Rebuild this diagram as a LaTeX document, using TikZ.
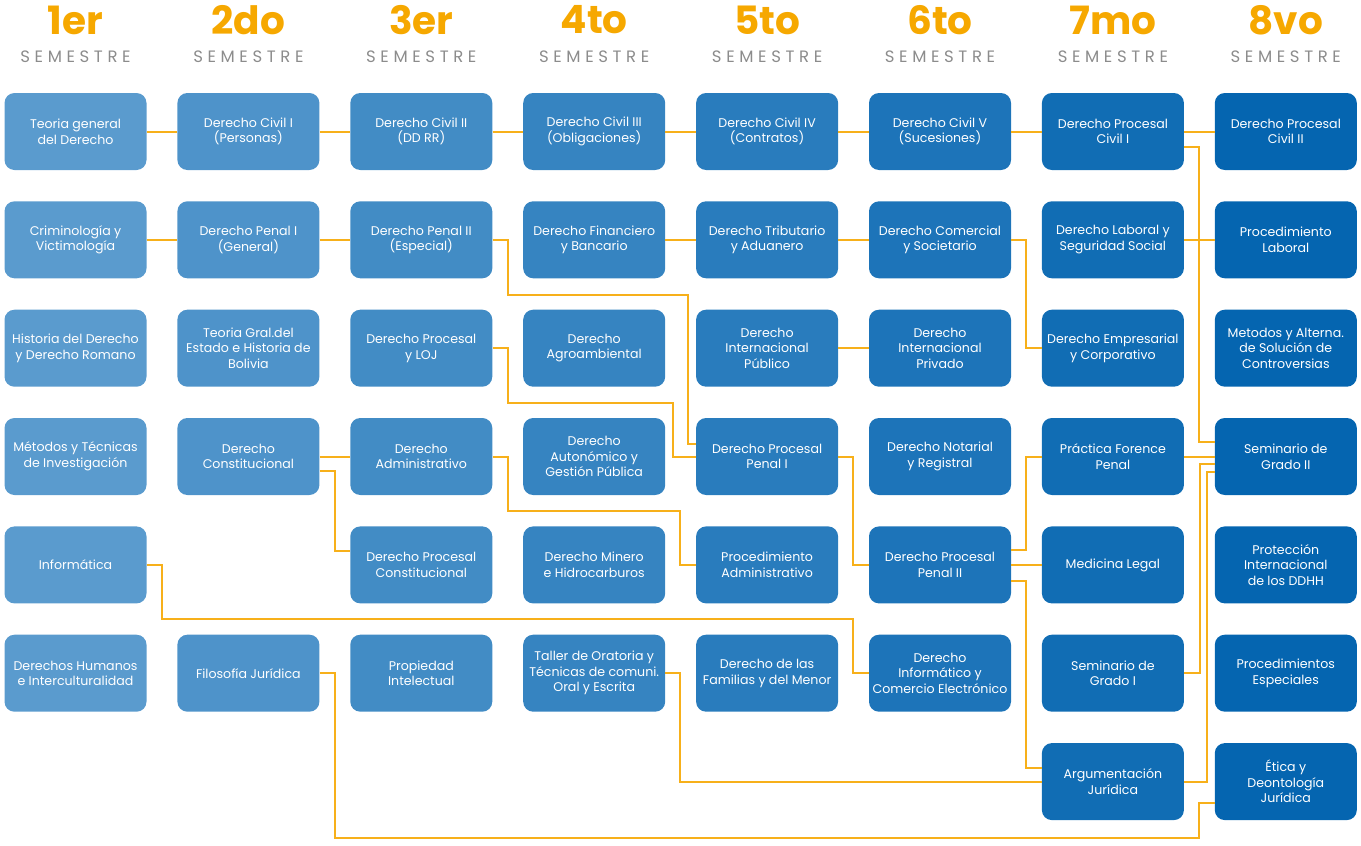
\documentclass[tikz,border=0pt]{standalone}
\usepackage{fontspec}
\setmainfont{Poppins}
\usetikzlibrary{calc}
% column colours, light to dark
\definecolor{c1}{HTML}{5A9BCE}
\definecolor{c2}{HTML}{4E93CA}
\definecolor{c3}{HTML}{428CC5}
\definecolor{c4}{HTML}{3684C1}
\definecolor{c5}{HTML}{297CBD}
\definecolor{c6}{HTML}{1D74B9}
\definecolor{c7}{HTML}{116DB4}
\definecolor{c8}{HTML}{0565B0}
\definecolor{linkc}{HTML}{F7B01A}
\definecolor{numc}{HTML}{F6A800}
\definecolor{semc}{HTML}{8C8C8C}
\begin{document}
\begin{tikzpicture}[x=1pt,y=-1pt,
  course/.style={rounded corners=10pt,minimum width=142pt,minimum height=77pt,
    inner sep=2pt,text=white,align=center,font=\fontsize{12.6}{15.6}\selectfont},
  link/.style={draw=linkc,line width=2pt},
  semlabel/.style={text=semc,font=\fontsize{16.5}{18}\selectfont\addfontfeatures{LetterSpace=28}},
  numlabel/.style={text=numc,font=\fontsize{39}{40}\selectfont\bfseries}]
\useasboundingbox (0,0) rectangle (1361,846);

% semester headings
\foreach \x/\n [count=\i] in {75.5/1er,248.4/2do,421.3/3er,594.2/4to,767.1/5to,940/6to,1112.9/7mo,1285.8/8vo}{
  \node[numlabel] (num\i) at (\x,20) {\n};
  \node[semlabel] (sem\i) at (\x,56.5) {SEMESTRE};
}

% 1er semestre
\node[course,fill=c1] (teo)  at (75.5,131.5) {Teoria general\\del Derecho};
\node[course,fill=c1] (crim) at (75.5,239.8) {Criminología y\\Victimología};
\node[course,fill=c1] (hist) at (75.5,348.2) {Historia del Derecho\\y Derecho Romano};
\node[course,fill=c1] (met)  at (75.5,456.5) {Métodos y Técnicas\\de Investigación};
\node[course,fill=c1] (inf)  at (75.5,564.9) {Informática};
\node[course,fill=c1] (ddhh) at (75.5,673.2) {Derechos Humanos\\e Interculturalidad};
% 2do semestre
\node[course,fill=c2] (civ1) at (248.4,131.5) {Derecho Civil I\\(Personas)};
\node[course,fill=c2] (pen1) at (248.4,239.8) {Derecho Penal I\\(General)};
\node[course,fill=c2] (tge)  at (248.4,348.2) {Teoria Gral.del\\Estado e Historia de\\Bolivia};
\node[course,fill=c2] (cons) at (248.4,456.5) {Derecho\\Constitucional};
\node[course,fill=c2] (filo) at (248.4,673.2) {Filosofía Jurídica};
% 3er semestre
\node[course,fill=c3] (civ2) at (421.3,131.5) {Derecho Civil II\\(DD RR)};
\node[course,fill=c3] (pen2) at (421.3,239.8) {Derecho Penal II\\(Especial)};
\node[course,fill=c3] (loj)  at (421.3,348.2) {Derecho Procesal\\y LOJ};
\node[course,fill=c3] (adm)  at (421.3,456.5) {Derecho\\Administrativo};
\node[course,fill=c3] (pcon) at (421.3,564.9) {Derecho Procesal\\Constitucional};
\node[course,fill=c3] (prop) at (421.3,673.2) {Propiedad\\Intelectual};
% 4to semestre
\node[course,fill=c4] (civ3) at (594.2,131.5) {Derecho Civil III\\(Obligaciones)};
\node[course,fill=c4] (fin)  at (594.2,239.8) {Derecho Financiero\\y Bancario};
\node[course,fill=c4] (agro) at (594.2,348.2) {Derecho\\Agroambiental};
\node[course,fill=c4] (auto) at (594.2,456.5) {Derecho\\Autonómico y\\Gestión Pública};
\node[course,fill=c4] (min)  at (594.2,564.9) {Derecho Minero\\e Hidrocarburos};
\node[course,fill=c4] (tall) at (594.2,673.2) {Taller de Oratoria y\\Técnicas de comuni.\\Oral y Escrita};
% 5to semestre
\node[course,fill=c5] (civ4) at (767.1,131.5) {Derecho Civil IV\\(Contratos)};
\node[course,fill=c5] (trib) at (767.1,239.8) {Derecho Tributario\\y Aduanero};
\node[course,fill=c5] (dip)  at (767.1,348.2) {Derecho\\Internacional\\Público};
\node[course,fill=c5] (pp1)  at (767.1,456.5) {Derecho Procesal\\Penal I};
\node[course,fill=c5] (padm) at (767.1,564.9) {Procedimiento\\Administrativo};
\node[course,fill=c5] (fam)  at (767.1,673.2) {Derecho de las\\Familias y del Menor};
% 6to semestre
\node[course,fill=c6] (civ5) at (940,131.5) {Derecho Civil V\\(Sucesiones)};
\node[course,fill=c6] (com)  at (940,239.8) {Derecho Comercial\\y Societario};
\node[course,fill=c6] (dipr) at (940,348.2) {Derecho\\Internacional\\Privado};
\node[course,fill=c6] (not)  at (940,456.5) {Derecho Notarial\\y Registral};
\node[course,fill=c6] (pp2)  at (940,564.9) {Derecho Procesal\\Penal II};
\node[course,fill=c6] (dinf) at (940,673.2) {Derecho\\Informático y\\Comercio Electrónico};
% 7mo semestre
\node[course,fill=c7] (pc1)  at (1112.9,131.5) {Derecho Procesal\\Civil I};
\node[course,fill=c7] (lab)  at (1112.9,239.8) {Derecho Laboral y\\Seguridad Social};
\node[course,fill=c7] (emp)  at (1112.9,348.2) {Derecho Empresarial\\y Corporativo};
\node[course,fill=c7] (prac) at (1112.9,456.5) {Práctica Forence\\Penal};
\node[course,fill=c7] (med)  at (1112.9,564.9) {Medicina Legal};
\node[course,fill=c7] (sg1)  at (1112.9,673.2) {Seminario de\\Grado I};
\node[course,fill=c7] (arg)  at (1112.9,781.6) {Argumentación\\Jurídica};
% 8vo semestre
\node[course,fill=c8] (pc2)  at (1285.8,131.5) {Derecho Procesal\\Civil II};
\node[course,fill=c8] (plab) at (1285.8,239.8) {Procedimiento\\Laboral};
\node[course,fill=c8] (masc) at (1285.8,348.2) {Metodos y Alterna.\\de Solución de\\Controversias};
\node[course,fill=c8] (sg2)  at (1285.8,456.5) {Seminario de\\Grado II};
\node[course,fill=c8] (pidh) at (1285.8,564.9) {Protección\\Internacional\\de los DDHH};
\node[course,fill=c8] (pesp) at (1285.8,673.2) {Procedimientos\\Especiales};
\node[course,fill=c8] (eti)  at (1285.8,781.6) {Ética y\\Deontología\\Jurídica};

% straight prerequisite links
\draw[link] (teo) -- (civ1);
\draw[link] (civ1) -- (civ2);
\draw[link] (civ2) -- (civ3);
\draw[link] (civ3) -- (civ4);
\draw[link] (civ4) -- (civ5);
\draw[link] (civ5) -- (pc1);
\draw[link] (pc1) -- (pc2);
\draw[link] (crim) -- (pen1);
\draw[link] (pen1) -- (pen2);
\draw[link] (fin) -- (trib);
\draw[link] (trib) -- (com);
\draw[link] (lab) -- (plab);
\draw[link] (dip) -- (dipr);
\draw[link] (cons) -- (adm);
\draw[link] (pp2) -- (med);
\draw[link] (prac) -- (sg2);

% routed prerequisite links
\draw[link] ($(pc1.east)+(0,15.5)$) -- ++(15,0) |- ($(sg2.west)+(0,-15)$);
\draw[link] (pen2.east) -- ++(15,0) -- ++(0,55) -| ($(pp1.west)+(-8,-12.5)$) -- ($(pp1.west)+(0,-12.5)$);
\draw[link] (loj.east) -- ++(15,0) -- ++(0,54.5) -| ($(pp1.west)+(-23,0)$) -- (pp1.west);
\draw[link] (com.east) -- ++(15,0) |- (emp.west);
\draw[link] ($(cons.east)+(0,14)$) -- ++(15.5,0) |- ($(pcon.west)+(0,-13.5)$);
\draw[link] (adm.east) -- ++(15,0) -- ++(0,54.5) -| ($(padm.west)+(-16,0)$) -- (padm.west);
\draw[link] (pp1.east) -- ++(15,0) |- (pp2.west);
\draw[link] (inf.east) -- ++(15.5,0) -- ++(0,54.5) -| ($(dinf.west)+(-16,0)$) -- (dinf.west);
\draw[link] (filo.east) -- ++(15.5,0) -- ++(0,164.3) -| ($(eti.west)+(-16,21.5)$) -- ($(eti.west)+(0,21.5)$);
\draw[link] (tall.east) -- ++(15,0) |- (arg.west);
\draw[link] ($(pp2.east)+(0,-15)$) -- ++(15,0) |- (prac.west);
\draw[link] ($(pp2.east)+(0,16)$) -- ++(15,0) |- ($(arg.west)+(0,-13.5)$);
\draw[link] (sg1.east) -- ++(16,0) |- ($(sg2.west)+(0,7.5)$);
\draw[link] (arg.east) -- ++(23,0) |- ($(sg2.west)+(0,15.5)$);
\end{tikzpicture}
\end{document}
